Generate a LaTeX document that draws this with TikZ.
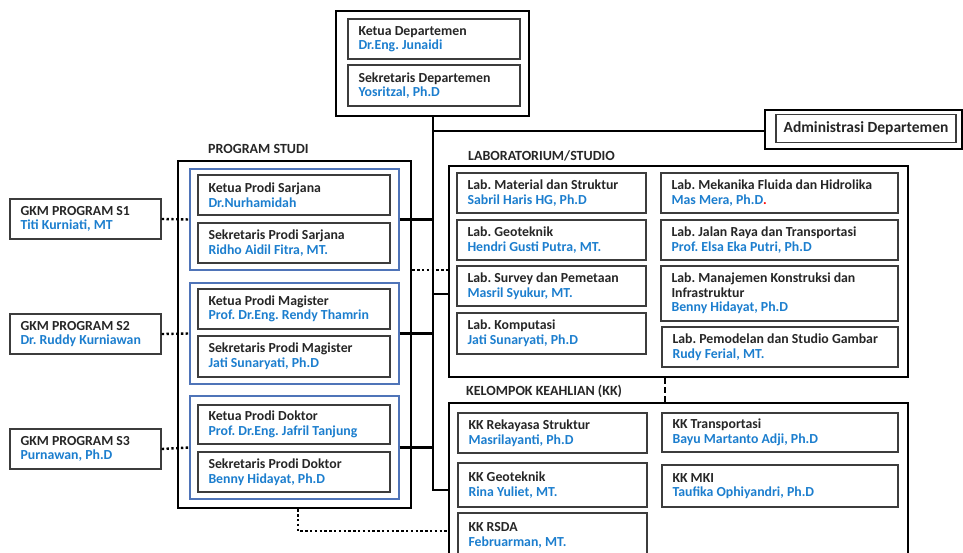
\documentclass[tikz,border=0pt]{standalone}
\usepackage{fontspec}
\setmainfont{Carlito}
\frenchspacing
\definecolor{nblue}{RGB}{28,126,206}
\definecolor{boxgray}{RGB}{60,60,60}
\definecolor{fblue}{RGB}{79,116,184}
\newcommand\myBx[7]{%
  \pgfmathsetmacro\myBW{#4-#2}\pgfmathsetmacro\myBH{#5-#3}%
  \node[ibox, minimum width=\myBW pt, minimum height=\myBH pt] (#1) at ({(#2+#4)/2},{(#3+#5)/2}) {};
  \node[itxt, anchor=west] (#1t) at ([xshift=11pt]#1.west) {#6\\\textcolor{nblue}{#7}};}
\newcommand\myFr[6]{%
  \pgfmathsetmacro\myBW{#4-#2}\pgfmathsetmacro\myBH{#5-#3}%
  \node[#6, minimum width=\myBW pt, minimum height=\myBH pt, inner sep=0pt] (#1) at ({(#2+#4)/2},{(#3+#5)/2}) {};}
\tikzset{
  ibox/.style={draw=boxgray, line width=1.4pt, inner sep=0pt},
  itxt/.style={inner sep=0pt, align=left, font=\fontsize{13.8}{14.6}\selectfont\bfseries, text=black!85},
  obox/.style={draw=black, line width=2.6pt},
  bbox/.style={draw=fblue, line width=1.1pt},
  ttl/.style={font=\fontsize{14}{15}\selectfont\bfseries, text=black!85, inner sep=0pt},
  conn/.style={draw=black, line width=2.2pt},
  dotline/.style={draw=black, line width=2.4pt, dash pattern=on 2.4pt off 2.4pt},
  dashline/.style={draw=black, line width=2.4pt, dash pattern=on 6pt off 3pt}
}
\begin{document}
\begin{tikzpicture}[x=1pt,y=-1pt]
\useasboundingbox (0,0) rectangle (963,553);
\clip (0,0) rectangle (963,553);
% Department
\myFr{dept}{336}{11}{529}{116}{obox}
\myBx{ketua}{348}{19}{520}{59}{Ketua Departemen}{Dr.Eng. Junaidi}
\myBx{sekdep}{348}{65}{520}{106}{Sekretaris Departemen}{Yosritzal, Ph.D}
% Admin
\myFr{admo}{765}{110}{962}{149}{obox}
\node[draw=boxgray, line width=1.4pt, minimum width=180pt, minimum height=28pt,
  font=\fontsize{15.5}{16}\selectfont\bfseries, text=black!85] (admin) at (866,128.5) {Administrasi Departemen};
% Program studi
\node[ttl, anchor=base west] (pstitle) at (208,154) {PROGRAM STUDI};
\myFr{prog}{178}{161}{411}{508}{obox}
\myFr{bs1}{190}{169}{399}{270}{bbox}
\myFr{bs2}{190}{283}{399}{384}{bbox}
\myFr{bs3}{190}{396}{399}{499}{bbox}
\myBx{s1k}{198}{175}{390}{215}{Ketua Prodi Sarjana}{Dr.Nurhamidah}
\myBx{s1s}{198}{223}{390}{263}{Sekretaris Prodi Sarjana}{Ridho Aidil Fitra, MT.}
\myBx{s2k}{198}{289}{390}{329}{Ketua Prodi Magister}{Prof. Dr.Eng. Rendy Thamrin}
\myBx{s2s}{198}{336}{390}{377}{Sekretaris Prodi Magister}{Jati Sunaryati, Ph.D}
\myBx{s3k}{198}{405}{390}{444}{Ketua Prodi Doktor}{Prof. Dr.Eng. Jafril Tanjung}
\myBx{s3s}{198}{452}{390}{492}{Sekretaris Prodi Doktor}{Benny Hidayat, Ph.D}
% GKM
\myBx{g1}{10}{199}{161}{239}{GKM PROGRAM S1}{Titi Kurniati, MT}
\myBx{g2}{10}{314}{161}{354}{GKM PROGRAM S2}{Dr. Ruddy Kurniawan}
\myBx{g3}{10}{429}{161}{469}{GKM PROGRAM S3}{Purnawan, Ph.D}
% Lab
\node[ttl, anchor=base west] (labtitle) at (468,161) {LABORATORIUM/STUDIO};
\myFr{lab}{449}{166}{908}{377}{obox}
\myBx{l1}{457}{173}{646}{213}{Lab. Material dan Struktur}{Sabril Haris HG, Ph.D}
\myBx{l2}{457}{220}{646}{260}{Lab. Geoteknik}{Hendri Gusti Putra, MT.}
\myBx{l3}{457}{266}{646}{306}{Lab. Survey dan Pemetaan}{Masril Syukur, MT.}
\myBx{l4}{457}{313}{646}{354}{Lab. Komputasi}{Jati Sunaryati, Ph.D}
\myBx{r1}{661}{173}{898}{213}{Lab. Mekanika Fluida dan Hidrolika}{Mas Mera, Ph.D\textcolor{red}{.}}
\myBx{r2}{661}{220}{898}{260}{Lab. Jalan Raya dan Transportasi}{Prof. Elsa Eka Putri, Ph.D}
\myBx{r3}{661}{266}{898}{321}{Lab. Manajemen Konstruksi dan\\Infrastruktur}{Benny Hidayat, Ph.D}
\myBx{r4}{662}{327}{898}{367}{Lab. Pemodelan dan Studio Gambar}{Rudy Ferial, MT.}
% KK
\node[ttl, anchor=base west] (kktitle) at (466,395) {KELOMPOK KEAHLIAN (KK)};
\myFr{kk}{449}{403}{908}{565}{obox}
\myBx{k1}{458}{413}{647}{453}{KK Rekayasa Struktur}{Masrilayanti, Ph.D}
\myBx{k2}{458}{463}{647}{507}{KK Geoteknik}{Rina Yuliet, MT.}
\myBx{k3}{458}{513}{647}{558}{KK RSDA}{Februarman, MT.}
\myBx{k4}{662}{413}{898}{452}{KK Transportasi}{Bayu Martanto Adji, Ph.D}
\myBx{k5}{662}{465}{898}{507}{KK MKI}{Taufika Ophiyandri, Ph.D}
% Connectors
\coordinate (trunkTop) at (433,116);
\coordinate (trunkEnd) at (433,490);
\draw[conn] (dept.south -| trunkTop) -- (trunkEnd) -- (kk.west |- trunkEnd);
\draw[conn] (433,131) -- (admo.west |- 0,131);
\draw[conn] (bs1.east) -- (bs1.east -| trunkTop);
\draw[conn] (bs2.east) -- (bs2.east -| trunkTop);
\draw[conn] (bs3.east) -- (bs3.east -| trunkTop);
\draw[conn] (433,294) -- (lab.west |- 0,294);
\draw[dotline] (g1.east) -- (bs1.west);
\draw[dotline] (g2.east) -- (bs2.west);
\draw[dotline] (g3.east) -- (bs3.west);
\draw[dotline] (prog.east |- 0,270) -- (lab.west |- 0,270);
\coordinate (dotCorner) at (298,531);
\draw[dotline] (prog.south -| dotCorner) -- (dotCorner) -- (kk.west |- dotCorner);
\draw[dashline] (lab.south -| 665,0) -- (kk.north -| 665,0);
\end{tikzpicture}
\end{document}
